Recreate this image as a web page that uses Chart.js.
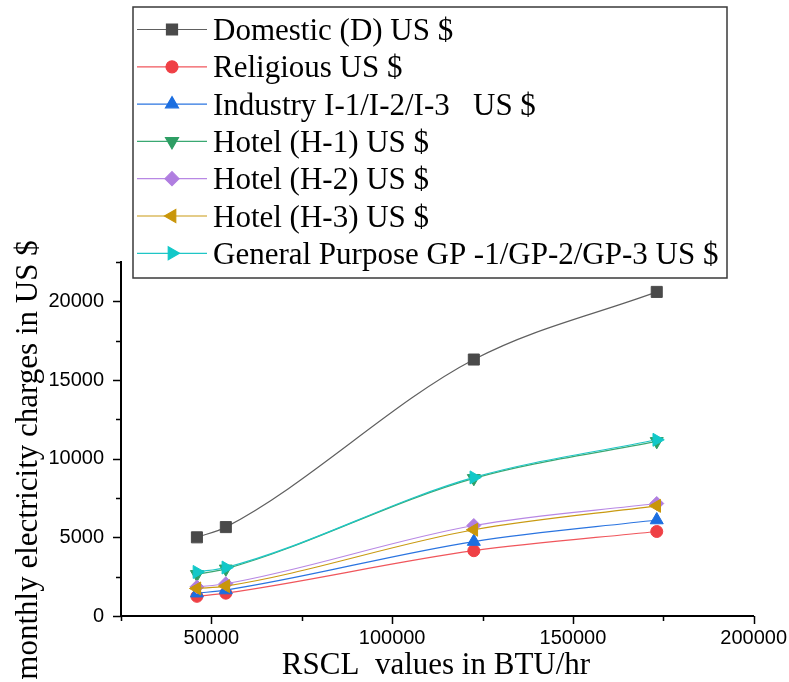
<!DOCTYPE html>
<html>
<head>
<meta charset="utf-8">
<script src="https://cdn.jsdelivr.net/npm/chart.js@4.4.0/dist/chart.umd.min.js"></script>
<style>
  html, body { margin: 0; padding: 0; background: #fff; }
</style>
</head>
<body>
<canvas id="chart" width="789" height="682"></canvas>
<script>
// RSCL load (BTU/hr) against monthly charge per tariff
const rsclValues = [46000, 54000, 122600, 173200];

const domesticUsd   = [5000, 5650, 16300, 20600];
const religiousUsd  = [1250, 1450, 4150, 5370];
const industryUsd   = [1450, 1650, 4730, 6100];
const hotelH1Usd    = [2650, 3000, 8750, 11100];
const hotelH2Usd    = [1850, 2050, 5750, 7150];
const hotelH3Usd    = [1750, 1900, 5480, 7000];
const generalUsd    = [2800, 3080, 8810, 11200];

const seriesNames = [
  'Domestic (D) US $',
  'Religious US $',
  'Industry I-1/I-2/I-3   US $',
  'Hotel (H-1) US $',
  'Hotel (H-2) US $',
  'Hotel (H-3) US $',
  'General Purpose GP -1/GP-2/GP-3 US $'
];
const seriesValues = [domesticUsd, religiousUsd, industryUsd, hotelH1Usd, hotelH2Usd, hotelH3Usd, generalUsd];

const xTicks = [50000, 100000, 150000, 200000];
const yTicks = [0, 5000, 10000, 15000, 20000];

// marker / line styles
const lineColors   = ['#606060', '#f0565c', '#2a74e0', '#3aa872', '#b888e4', '#c99a12', '#1fc6c6'];
const markerColors = ['#4a4a4a', '#ef4045', '#1c6ee0', '#2e9e64', '#b07ee0', '#c9960a', '#12c8c8'];
const pointStyles  = ['rect', 'circle', 'triangle', 'triangle', 'rectRot', 'triangle', 'triangle'];
const pointTurns   = [0, 0, 0, 180, 0, 270, 90];
const pointSizes   = [7.8, 6, 7.5, 7.5, 7, 7.5, 7.5];

const serif = '"Liberation Serif", "Times New Roman", serif';
const sans = '"Liberation Sans", Arial, sans-serif';

const datasets = seriesNames.map((name, i) => ({
  label: name,
  data: rsclValues.map((x, j) => ({ x: x, y: seriesValues[i][j] })),
  borderColor: lineColors[i],
  borderWidth: 1.2,
  backgroundColor: markerColors[i],
  pointBackgroundColor: markerColors[i],
  pointBorderColor: markerColors[i],
  pointBorderWidth: 1,
  pointStyle: pointStyles[i],
  rotation: pointTurns[i],
  pointRadius: pointSizes[i],
  cubicInterpolationMode: 'monotone',
  fill: false,
  order: seriesNames.length - i
}));

// ticks, axis titles
const axisDecor = {
  id: 'axisDecor',
  afterDraw(chart) {
    const { ctx, chartArea, scales } = chart;
    ctx.save();
    ctx.strokeStyle = '#000';
    ctx.lineWidth = 1.5;
    ctx.beginPath();
    scales.x.ticks.forEach(t => {
      const px = Math.round(scales.x.getPixelForValue(t.value)) + 0.5;
      const len = xTicks.includes(t.value) ? 8 : 5;
      ctx.moveTo(px, chartArea.bottom);
      ctx.lineTo(px, chartArea.bottom + len);
    });
    scales.y.ticks.forEach(t => {
      const py = Math.round(scales.y.getPixelForValue(t.value)) + 0.5;
      const len = yTicks.includes(t.value) ? 8 : 5;
      ctx.moveTo(chartArea.left, py);
      ctx.lineTo(chartArea.left - len, py);
    });
    ctx.stroke();

    ctx.fillStyle = '#000';
    ctx.font = '31px ' + serif;
    ctx.textAlign = 'center';
    ctx.textBaseline = 'alphabetic';
    ctx.fillText('RSCL  values in BTU/hr', 436, 674);

    ctx.translate(37, 460);
    ctx.rotate(-Math.PI / 2);
    ctx.fillText('monthly electricity charges in US $', 0, 0);
    ctx.restore();
  }
};

// boxed legend sitting over the top of the plot
const boxLegend = {
  id: 'boxLegend',
  afterDraw(chart) {
    const { ctx } = chart;
    const left = 133, top = 7, right = 727, bottom = 278;
    const rowStart = 29.5, rowStep = 37.3;
    ctx.save();
    ctx.fillStyle = '#fff';
    ctx.fillRect(left, top, right - left, bottom - top);
    ctx.strokeStyle = '#3a3a3a';
    ctx.lineWidth = 1.5;
    ctx.strokeRect(left, top, right - left, bottom - top);

    ctx.font = '31px ' + serif;
    ctx.textAlign = 'left';
    ctx.textBaseline = 'alphabetic';
    chart.data.datasets.forEach((ds, i) => {
      const y = rowStart + i * rowStep;
      ctx.strokeStyle = ds.borderColor;
      ctx.lineWidth = 1.2;
      ctx.beginPath();
      ctx.moveTo(137, y);
      ctx.lineTo(207, y);
      ctx.stroke();

      ctx.fillStyle = ds.pointBackgroundColor;
      ctx.strokeStyle = ds.pointBorderColor;
      Chart.helpers.drawPoint(ctx, {
        pointStyle: ds.pointStyle,
        rotation: ds.rotation,
        radius: ds.pointRadius,
        borderWidth: 1
      }, 172, y);

      ctx.fillStyle = '#000';
      ctx.fillText(ds.label, 213, y + 10.5);
    });
    ctx.restore();
  }
};

new Chart(document.getElementById('chart'), {
  type: 'line',
  data: { datasets: datasets },
  options: {
    responsive: false,
    devicePixelRatio: 1,
    animation: false,
    layout: { padding: { top: 262, right: 34, left: 0, bottom: 0 } },
    scales: {
      x: {
        type: 'linear',
        min: 25000,
        max: 200000,
        afterFit: s => { s.height = 66; },
        ticks: {
          stepSize: 25000,
          autoSkip: false,
          maxRotation: 0,
          padding: 2,
          color: '#000',
          font: { family: sans, size: 20 },
          callback: v => xTicks.includes(v) ? String(v) : ''
        },
        grid: { display: false, drawTicks: true, tickLength: 8 },
        border: { display: true, color: '#000', width: 2 }
      },
      y: {
        min: 0,
        max: 22500,
        afterFit: s => { s.width = 121; },
        ticks: {
          stepSize: 2500,
          autoSkip: false,
          padding: 9,
          color: '#000',
          font: { family: sans, size: 20 },
          callback: v => yTicks.includes(v) ? String(v) : ''
        },
        grid: { display: false, drawTicks: true, tickLength: 8 },
        border: { display: true, color: '#000', width: 2 }
      }
    },
    plugins: {
      legend: { display: false },
      tooltip: { enabled: false }
    }
  },
  plugins: [axisDecor, boxLegend]
});
</script>
</body>
</html>
